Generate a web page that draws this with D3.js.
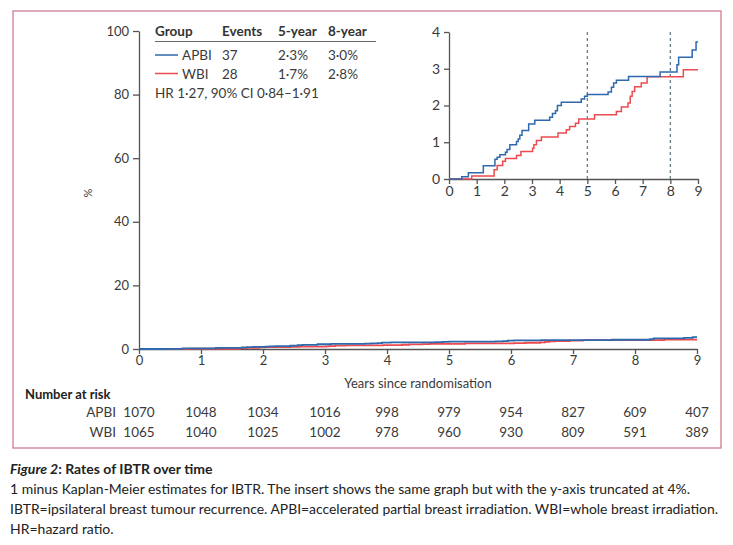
<!DOCTYPE html>
<html><head><meta charset="utf-8">
<script src="https://cdn.jsdelivr.net/npm/d3@7"></script>
<style>
body{margin:0;background:#fff;}
svg text{font-family:Lato,"Open Sans",sans-serif;}
</style></head>
<body><svg id="c" width="733" height="545"></svg>
<script>
const apbiTimes=[0,0.46,0.70,1.24,1.66,1.74,1.84,2.04,2.10,2.20,2.44,2.50,2.56,2.64,2.88,3.10,3.64,3.74,3.85,3.92,4.06,4.78,4.90,5.00,5.75,5.87,5.95,6.05,6.49,7.63,8.24,8.30,8.79,8.93,9.0];
const apbiValues=[0,0.06,0.17,0.36,0.54,0.59,0.66,0.73,0.80,0.93,1.02,1.09,1.19,1.32,1.50,1.60,1.68,1.78,1.86,2.00,2.09,2.18,2.25,2.30,2.37,2.50,2.61,2.69,2.79,2.91,3.11,3.31,3.51,3.73,3.73];
const wbiTimes=[0,0.82,1.63,1.74,1.94,2.04,2.44,2.60,3.02,3.07,3.16,3.34,3.94,4.24,4.36,4.57,4.69,5.26,6.05,6.23,6.47,6.55,6.62,6.71,6.95,7.16,8.47,9.0];
const wbiValues=[0,0.08,0.25,0.37,0.48,0.56,0.64,0.75,0.84,0.93,1.05,1.14,1.25,1.34,1.43,1.52,1.63,1.75,1.84,1.96,2.07,2.25,2.38,2.51,2.61,2.78,2.97,2.97];
const years=[0,1,2,3,4,5,6,7,8,9];
const mainYTicks=[0,20,40,60,80,100];
const insetYTicks=[0,1,2,3,4];
const refLines=[5,8];
const riskAPBI=[1070,1048,1034,1016,998,979,954,827,609,407];
const riskWBI=[1065,1040,1025,1002,978,960,930,809,591,389];
const legendRows=[
 {group:"APBI",events:"37",y5:"2·3%",y8:"3·0%",color:"#2e69ad"},
 {group:"WBI",events:"28",y5:"1·7%",y8:"2·8%",color:"#ec4a4e"}
];
const hrText="HR 1·27, 90% CI 0·84–1·91";

const svg=d3.select("#c");
const axisCol="#555", textCol="#3a3a3a";

svg.append("rect").attr("x",13).attr("y",11).attr("width",708).attr("height",437)
  .attr("fill","none").attr("stroke","#d07b93").attr("stroke-width",1.3);

const apbi=apbiTimes.map((t,i)=>[t,apbiValues[i]]);
const wbi=wbiTimes.map((t,i)=>[t,wbiValues[i]]);

function styleAxis(g,fs){
  g.select(".domain").attr("stroke",axisCol).attr("stroke-width",1.3);
  g.selectAll(".tick line").attr("stroke",axisCol).attr("stroke-width",1.3);
  g.selectAll(".tick text").attr("fill",textCol).style("font-size",fs+"px")
   .style("font-family",'Lato,"Open Sans",sans-serif');
}

// Main chart
const x=d3.scaleLinear().domain([0,9]).range([139,697]);
const y=d3.scaleLinear().domain([0,100]).range([349,31]);
const gy=svg.append("g").attr("transform","translate(139,0)")
  .call(d3.axisLeft(y).tickValues(mainYTicks).tickFormat(d3.format("d")).tickSize(6).tickSizeOuter(0).tickPadding(4));
styleAxis(gy,13);
const gx=svg.append("g").attr("transform","translate(0,349)")
  .call(d3.axisBottom(x).tickValues(years).tickFormat(d3.format("d")).tickSize(5).tickSizeOuter(0).tickPadding(2));
styleAxis(gx,13);
svg.append("text").attr("x",418).attr("y",388).attr("text-anchor","middle")
  .attr("fill",textCol).style("font-size","13px").text("Years since randomisation");
svg.append("text").attr("transform","translate(92,193) rotate(-90)").attr("text-anchor","middle")
  .attr("fill",textCol).style("font-size","11px").text("%");

const line=d3.line().x(d=>x(d[0])).y(d=>y(d[1])).curve(d3.curveStepAfter);
svg.append("path").datum(wbi).attr("d",line).attr("fill","none").attr("stroke","#ec4a4e").attr("stroke-width",1.8);
svg.append("path").datum(apbi).attr("d",line).attr("fill","none").attr("stroke","#2e69ad").attr("stroke-width",1.8);

// Legend
const lg=svg.append("g");
const cols=[155,222,278,328];
["Group","Events","5-year","8-year"].forEach((h,i)=>{
  lg.append("text").attr("x",cols[i]).attr("y",36).attr("fill","#333")
   .style("font-size","13.5px").style("font-weight","bold").text(h);
});
lg.append("line").attr("x1",155).attr("x2",376).attr("y1",41.5).attr("y2",41.5).attr("stroke","#666").attr("stroke-width",1.2);
legendRows.forEach((r,i)=>{
  const yy=55+i*18.5;
  lg.append("line").attr("x1",155).attr("x2",178).attr("y1",yy).attr("y2",yy).attr("stroke",r.color).attr("stroke-width",1.5);
  lg.append("text").attr("x",182).attr("y",yy+5).attr("fill",textCol).style("font-size","13.5px").text(r.group);
  lg.append("text").attr("x",222).attr("y",yy+5).attr("fill",textCol).style("font-size","13.5px").text(r.events);
  lg.append("text").attr("x",278).attr("y",yy+5).attr("fill",textCol).style("font-size","13.5px").text(r.y5);
  lg.append("text").attr("x",328).attr("y",yy+5).attr("fill",textCol).style("font-size","13.5px").text(r.y8);
});
lg.append("text").attr("x",155).attr("y",98).attr("fill",textCol).style("font-size","13.5px").text(hrText);

// Inset
const xi=d3.scaleLinear().domain([0,9]).range([449,698]);
const yi=d3.scaleLinear().domain([0,4]).range([179,32]);
const giy=svg.append("g").attr("transform","translate(449,0)")
  .call(d3.axisLeft(yi).tickValues(insetYTicks).tickFormat(d3.format("d")).tickSize(5).tickSizeOuter(0).tickPadding(4));
styleAxis(giy,14);
const gix=svg.append("g").attr("transform","translate(0,179)")
  .call(d3.axisBottom(xi).tickValues(years).tickFormat(d3.format("d")).tickSize(5).tickSizeOuter(0).tickPadding(2));
styleAxis(gix,14);
refLines.forEach(v=>{
  svg.append("line").attr("x1",xi(v)).attr("x2",xi(v)).attr("y1",yi(4)).attr("y2",yi(0))
   .attr("stroke","#6b7f8c").attr("stroke-width",1.3).attr("stroke-dasharray","3,3");
});
const linei=d3.line().x(d=>xi(d[0])).y(d=>yi(d[1])).curve(d3.curveStepAfter);
svg.append("path").datum(wbi).attr("d",linei).attr("fill","none").attr("stroke","#ec4a4e").attr("stroke-width",1.5);
svg.append("path").datum(apbi).attr("d",linei).attr("fill","none").attr("stroke","#2e69ad").attr("stroke-width",1.5);

// Number at risk
svg.append("text").attr("x",25).attr("y",399).attr("fill","#222").style("font-size","13px").style("font-weight","bold").text("Number at risk");
[["APBI",riskAPBI,417],["WBI",riskWBI,437]].forEach(([lab,vals,yy])=>{
  svg.append("text").attr("x",116).attr("y",yy).attr("text-anchor","end").attr("fill",textCol).style("font-size","13.5px").text(lab);
  vals.forEach((v,i)=>{
    svg.append("text").attr("x",x(years[i])).attr("y",yy).attr("text-anchor","middle").attr("fill",textCol).style("font-size","13.5px").text(v);
  });
});

// Caption
const cap=svg.append("text").attr("x",10).attr("y",474).attr("fill","#222").style("font-size","14px").style("font-weight","bold");
cap.append("tspan").style("font-style","italic").text("Figure 2");
cap.append("tspan").text(": Rates of IBTR over time");
const capLines=[
 {t:"1 minus Kaplan-Meier estimates for IBTR. The insert shows the same graph but with the y-axis truncated at 4%.",w:680},
 {t:"IBTR=ipsilateral breast tumour recurrence. APBI=accelerated partial breast irradiation. WBI=whole breast irradiation.",w:708},
 {t:"HR=hazard ratio.",w:0}];
capLines.forEach((c,i)=>{
  const tx=svg.append("text").attr("x",10).attr("y",494+i*20).attr("fill","#222").style("font-size","14px").text(c.t);
  if(c.w){ tx.attr("textLength",c.w).attr("lengthAdjust","spacingAndGlyphs"); }
});
</script></body></html>
